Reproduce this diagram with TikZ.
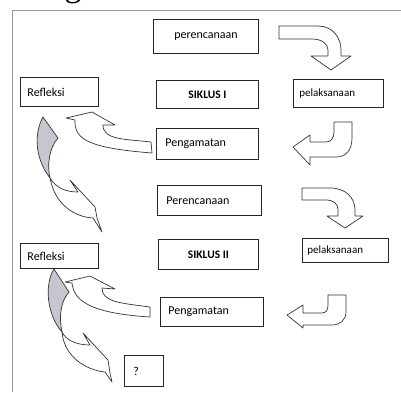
\documentclass[tikz,border=0pt]{standalone}
\usepackage{fontspec}
\setmainfont{Carlito}
\newfontfamily\capfont{Liberation Serif}
\definecolor{lens}{RGB}{198,198,208}
\begin{document}
\begin{tikzpicture}[x=1pt,y=-1pt,
    box/.style={draw=black!85, line width=0.9pt, fill=white, inner ysep=0pt, font=\fontsize{12}{14}\selectfont},
    lbox/.style={box, align=left, anchor=north west},
    blk/.style={draw=black!80, line width=0.7pt, fill=white, line join=round}]
    \useasboundingbox (0,0) rectangle (401,392);
    \node[anchor=base, font=\capfont\fontsize{34}{34}\selectfont] (g) at (73,-4) {g};
    \draw[gray!80, line width=0.8pt] (12,392)--(12,10.5)--(401,10.5);
    % siklus I
    \node[box, anchor=north west, minimum width=105pt, minimum height=34pt] (plan1) at (153,19) {perencanaan};
    \node[box, anchor=north west, minimum width=102pt, minimum height=28pt, font=\bfseries\fontsize{11.5}{14}\selectfont] (siklus1) at (156,80) {SIKLUS I};
    \node[lbox, text width=64pt, inner xsep=7pt, minimum height=29pt] (refl1) at (20,77) {Refleksi};
    \node[lbox, text width=78pt, inner xsep=6pt, minimum height=28pt, font=\fontsize{11}{13}\selectfont] (pel1) at (293,79) {pelaksanaan};
    \node[lbox, text width=84pt, inner xsep=9pt, minimum height=31pt] (amat1) at (156,128) {Pengamatan};
    \draw[blk] (279,26) -- (318,26) .. controls (333,26) and (341,38) .. (341,50) -- (341,56) -- (351,56) -- (331,70) -- (311,56) -- (328,56) -- (328,50) .. controls (328,44) and (322,39) .. (312,39) -- (279,39) -- cycle;
    \draw[blk] (334,122) -- (352,122) -- (352,138) .. controls (352,150) and (346,157) .. (336,157) -- (310,157) -- (310,165) -- (293,147) -- (310,135) -- (310,142) -- (326,142) .. controls (331,142) and (334,138) .. (334,132) -- cycle;
    \draw[blk] (151,142) .. controls (125,139) and (103,140) .. (103,125) -- (115,125) -- (92,112) -- (66,118) -- (75,120) .. controls (74,140) and (90,148) .. (152,153) -- cycle;
    \draw[blk] (50,178) .. controls (56,188) and (66,192) .. (78,192) -- (70,180) -- (95,207) -- (97,218) -- (102,232) -- (93,218) .. controls (75,217) and (55,205) .. (50,178) -- cycle;
    \draw[blk, fill=lens] (43,117) .. controls (33,135) and (36,160) .. (50,178) .. controls (47,165) and (49,148) .. (58,138) -- cycle;
    % siklus II
    \node[lbox, text width=86pt, inner xsep=9pt, minimum height=30pt] (plan2) at (157,185) {Perencanaan};
    \node[box, anchor=north west, minimum width=100pt, minimum height=30pt, font=\bfseries\fontsize{11.5}{14}\selectfont] (siklus2) at (158,239) {SIKLUS II};
    \node[lbox, text width=64pt, inner xsep=7pt, minimum height=25pt] (refl2) at (20,243) {Refleksi};
    \node[lbox, text width=76pt, inner xsep=5pt, minimum height=24pt, font=\fontsize{11}{13}\selectfont] (pel2) at (302,238) {pelaksanaan};
    \node[lbox, text width=87pt, inner xsep=8pt, minimum height=29pt] (amat2) at (160,297) {Pengamatan};
    \node[lbox, text width=21pt, inner xsep=9pt, minimum height=31pt] (q) at (124,355) {?};
    \draw[blk] (302,188) -- (330,188) .. controls (346,188) and (355,198) .. (355,210) -- (355,216) -- (363,216) -- (345,228) -- (327,216) -- (338,216) -- (338,210) .. controls (338,204) and (334,200) .. (326,200) -- (302,200) -- cycle;
    \draw[blk] (328,295) -- (346,295) -- (346,312) .. controls (346,320) and (340,325) .. (332,325) -- (303,325) -- (303,328) -- (287,315) -- (303,305) -- (303,313) -- (322,313) .. controls (326,313) and (328,310) .. (328,305) -- cycle;
    \draw[blk] (150,307) .. controls (120,303) and (102,302) .. (102,288) -- (115,289) -- (90,276) -- (65,282) -- (72,283) .. controls (74,300) and (88,313) .. (150,317) -- cycle;
    \draw[blk] (62,332) .. controls (66,340) and (76,345) .. (90,345) -- (83,333) -- (108,360) -- (110,373) -- (112,382) -- (105,372) .. controls (85,370) and (64,356) .. (62,332) -- cycle;
    \draw[blk, fill=lens] (54,269) .. controls (44,285) and (47,315) .. (62,332) .. controls (59,318) and (60,302) .. (69,292) -- cycle;
\end{tikzpicture}
\end{document}
